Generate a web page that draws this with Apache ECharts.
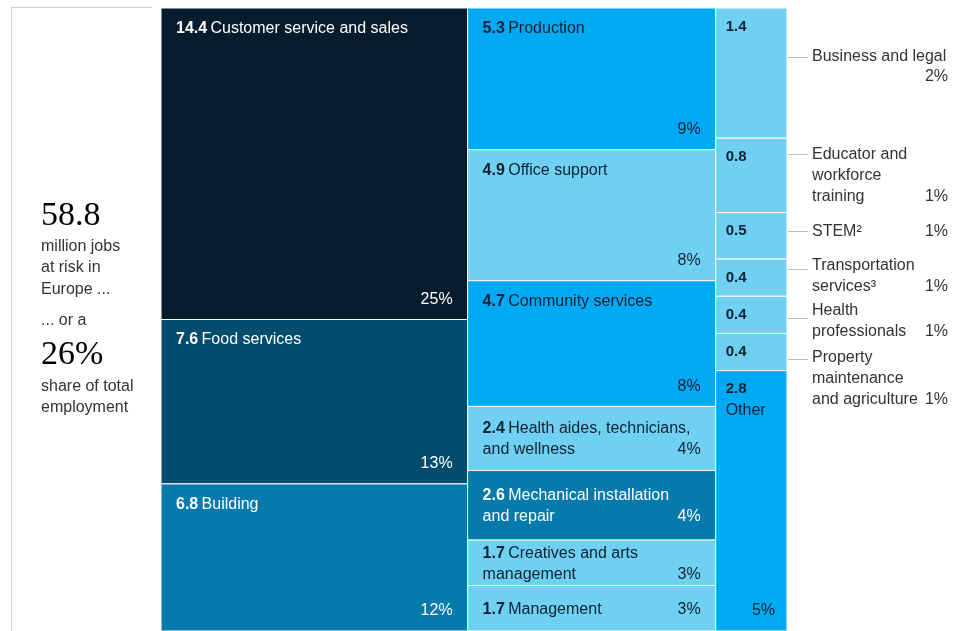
<!DOCTYPE html>
<html><head><meta charset="utf-8">
<script src="https://cdn.jsdelivr.net/npm/echarts@6/dist/echarts.min.js"></script>
<style>html,body{margin:0;padding:0;background:#fff}#c{width:963px;height:631px}</style>
</head><body><div id="c"></div>
<script>
// ---- data ----
const categories = ['Customer service and sales','Food services','Building','Production','Office support','Community services','Health aides, technicians, and wellness','Mechanical installation and repair','Creatives and arts management','Management','Business and legal','Educator and workforce training','STEM²','Transportation services³','Health professionals','Property maintenance and agriculture','Other'];
const cellLabels = ['Customer service and sales','Food services','Building','Production','Office support','Community services','Health aides, technicians,\nand wellness','Mechanical installation\nand repair','Creatives and arts\nmanagement','Management','','','','','','','Other'];
const jobsMillions = [14.4, 7.6, 6.8, 5.3, 4.9, 4.7, 2.4, 2.6, 1.7, 1.7, 1.4, 0.8, 0.5, 0.4, 0.4, 0.4, 2.8];
const shareOfEmployment = [25, 13, 12, 9, 8, 8, 4, 4, 3, 3, 2, 1, 1, 1, 1, 1, 5];
const columnOf = [0,0,0,1,1,1,1,1,1,1,2,2,2,2,2,2,2];
const calloutLabels = ['Business and legal','Educator and\nworkforce\ntraining','STEM²','Transportation\nservices³','Health\nprofessionals','Property\nmaintenance\nand agriculture'];
const totalJobs = '58.8';
const totalShare = '26%';

// ---- styles ----
const NAVY='#051C2C', DEEP='#034B6F', MID='#0679AD', CYAN='#00A9F4', LIGHT='#6FD0F1';
const cellFill = [NAVY, DEEP, MID, CYAN, LIGHT, CYAN, LIGHT, MID, LIGHT, LIGHT, LIGHT, LIGHT, LIGHT, LIGHT, LIGHT, LIGHT, CYAN];
const darkCells = new Set([NAVY, DEEP, MID]);
const SANS = '"Liberation Sans", Arial, sans-serif';
const SERIF = '"Liberation Serif", "DejaVu Serif", serif';
const INK = '#0b2233';

// ---- layout from values ----
const colSums = [0,0,0];
jobsMillions.forEach((v,i)=>{ colSums[columnOf[i]] += v; });
const colStart = [0, colSums[0], colSums[0] + colSums[1]];
const totalSum = colSums[0] + colSums[1] + colSums[2];
const acc = [0,0,0];
const cells = jobsMillions.map((v,i)=>{
  const c = columnOf[i];
  const y0 = acc[c] / colSums[c];
  acc[c] += v;
  const y1 = acc[c] / colSums[c];
  return [colStart[c], colStart[c] + colSums[c], y0, y1, i];
});

function renderItem(params, api){
  const i = api.value(4);
  const p0 = api.coord([api.value(0), api.value(2)]);
  const p1 = api.coord([api.value(1), api.value(3)]);
  const x = p0[0], y = Math.min(p0[1], p1[1]);
  const w = p1[0] - p0[0], h = Math.abs(p1[1] - p0[1]);
  const fill = cellFill[i];
  const col = darkCells.has(fill) ? '#ffffff' : INK;
  const c = columnOf[i];
  const children = [{
    type:'rect', z2:0, shape:{x:x, y:y, width:w, height:h},
    style:{fill:fill, stroke:'#ffffff', lineWidth:1}
  }];
  const val = jobsMillions[i].toFixed(1);
  const rich = {
    b:{font:'bold 16px '+SANS, fill:col, lineHeight:21},
    s:{font:'bold 15px '+SANS, fill:col, lineHeight:21},
    n:{font:'16px '+SANS, fill:col, lineHeight:21}
  };
  if (c < 2) {
    const lines = cellLabels[i].split('\n');
    const txt = lines.map((l,k)=> k===0 ? '{b|'+val+'} {n|'+l+'}' : '{n|'+l+'}').join('\n');
    if (h < 80) {
      const cy = y + h/2 + 1;
      children.push({type:'text', z2:10, style:{text:txt, x:x+15, y:cy, verticalAlign:'middle', align:'left', rich:rich}});
      children.push({type:'text', z2:10, style:{text:shareOfEmployment[i]+'%', x:x+w-15, y:cy + (lines.length-1)*10.5, align:'right', verticalAlign:'middle', font:'16px '+SANS, fill:col}});
    } else {
      children.push({type:'text', z2:10, style:{text:txt, x:x+15, y:y+10, verticalAlign:'top', align:'left', rich:rich}});
      children.push({type:'text', z2:10, style:{text:shareOfEmployment[i]+'%', x:x+w-15, y:y+h-20, align:'right', verticalAlign:'middle', font:'16px '+SANS, fill:col}});
    }
  } else {
    let txt = '{s|'+val+'}';
    if (cellLabels[i]) txt += '\n{n|'+cellLabels[i]+'}';
    children.push({type:'text', z2:10, style:{text:txt, x:x+10, y:y+8, verticalAlign:'top', align:'left', rich:rich}});
    if (cellLabels[i]) {
      children.push({type:'text', z2:10, style:{text:shareOfEmployment[i]+'%', x:x+w-12, y:y+h-20, align:'right', verticalAlign:'middle', font:'16px '+SANS, fill:col}});
    }
  }
  return {type:'group', children:children};
}

// ---- annotation graphics ----
const graphics = [];
graphics.push({type:'line', shape:{x1:11,y1:7.5,x2:152,y2:7.5}, style:{stroke:'#d0d0d0', lineWidth:1}, silent:true});
graphics.push({type:'line', shape:{x1:11.5,y1:7,x2:11.5,y2:631}, style:{stroke:'#d0d0d0', lineWidth:1}, silent:true});
const leftTexts = [
  [totalJobs, 216, 'normal 34px '+SERIF, '#000'],
  ['million jobs', 247, '16px '+SANS, '#333'],
  ['at risk in', 268, '16px '+SANS, '#333'],
  ['Europe ...', 290, '16px '+SANS, '#333'],
  ['... or a', 321, '16px '+SANS, '#333'],
  [totalShare, 355, 'normal 34px '+SERIF, '#000'],
  ['share of total', 387, '16px '+SANS, '#333'],
  ['employment', 408, '16px '+SANS, '#333']
];
leftTexts.forEach(t=>graphics.push({type:'text', x:41, y:t[1], style:{text:t[0], font:t[2], fill:t[3], verticalAlign:'middle', align:'left'}}));

// callouts: [first-line y, leader y, percent y]
const calloutPos = [[56,57,76],[154,154,196],[231,231,231],[265,269,286],[310,318,331],[357,359,399]];
calloutLabels.forEach((lab,k)=>{
  const p = calloutPos[k];
  graphics.push({type:'line', shape:{x1:788,y1:p[1]+0.5,x2:808,y2:p[1]+0.5}, style:{stroke:'#bdbdbd', lineWidth:1}, silent:true});
  graphics.push({type:'text', x:812, y:p[0]-9.5, style:{text:lab, font:'16px '+SANS, fill:'#333', lineHeight:21, verticalAlign:'top', align:'left'}});
  graphics.push({type:'text', x:948, y:p[2]+1, style:{text:shareOfEmployment[10+k]+'%', font:'16px '+SANS, fill:'#333', verticalAlign:'middle', align:'right'}});
});

const chart = echarts.init(document.getElementById('c'), null, {renderer:'canvas'});
chart.setOption({
  animation:false,
  backgroundColor:'#ffffff',
  grid:{left:161, top:8, width:626, height:627},
  xAxis:{type:'value', min:0, max:totalSum, show:false},
  yAxis:{type:'value', min:0, max:1, inverse:true, show:false},
  series:[{
    type:'custom', renderItem:renderItem, data:cells, clip:false,
    encode:{x:[0,1], y:[2,3]}
  }],
  graphic:graphics
});
</script></body></html>
